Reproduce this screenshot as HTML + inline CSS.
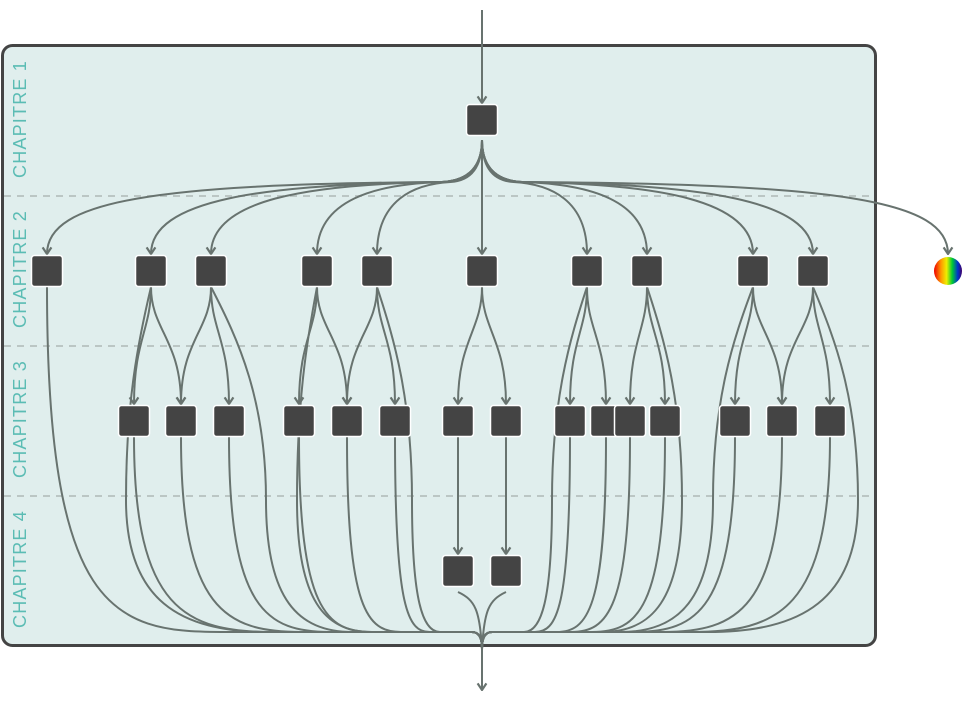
<!DOCTYPE html>
<html><head><meta charset="utf-8"><style>
html,body{margin:0;padding:0;background:#fff;width:964px;height:703px;overflow:hidden}
svg{display:block}
text{font-family:"Liberation Sans",sans-serif;font-size:18px;fill:#5bbcb4;letter-spacing:1.2px}
</style></head><body>
<svg id="s" width="964" height="703" viewBox="0 0 964 703" xmlns="http://www.w3.org/2000/svg">
<defs>
<marker id="a" viewBox="0 0 10 10" refX="9" refY="5" markerWidth="11" markerHeight="11" markerUnits="userSpaceOnUse" orient="auto">
<path d="M3 1 L9 5 L3 9" fill="none" stroke="#68736f" stroke-width="2"/>
</marker>
<linearGradient id="rb" x1="0" x2="1"><stop offset="0" stop-color="#e00"/><stop offset=".25" stop-color="#f90"/><stop offset=".45" stop-color="#ee0"/><stop offset=".65" stop-color="#0c3"/><stop offset=".85" stop-color="#03c"/><stop offset="1" stop-color="#406"/></linearGradient>
</defs>
<rect x="2.5" y="45.5" width="873" height="600" rx="10" fill="#e0eeed" stroke="#444" stroke-width="3"/>
<g stroke="#bbc6c4" stroke-width="2" stroke-dasharray="7 6">
<line x1="4" y1="196" x2="874" y2="196"/><line x1="4" y1="346" x2="874" y2="346"/><line x1="4" y1="496" x2="874" y2="496"/>
</g>
<text transform="translate(26,178) rotate(-90)">CHAPITRE 1</text>
<text transform="translate(26,328) rotate(-90)">CHAPITRE 2</text>
<text transform="translate(26,478) rotate(-90)">CHAPITRE 3</text>
<text transform="translate(26,628) rotate(-90)">CHAPITRE 4</text>
<g id="e" fill="none" stroke="#68736f" stroke-width="2"></g>
<g id="n"></g>
<circle cx="948" cy="271" r="14" fill="url(#rb)"/>
</svg>
<script>
var e=document.getElementById('e'),n=document.getElementById('n'),NS="http://www.w3.org/2000/svg";
function p(d,arr){var q=document.createElementNS(NS,'path');q.setAttribute('d',d);if(arr)q.setAttribute('marker-end','url(#a)');e.appendChild(q);}
function node(x,y){var r=document.createElementNS(NS,'rect');r.setAttribute('x',x-15.5);r.setAttribute('y',y-15.5);r.setAttribute('width',31);r.setAttribute('height',31);r.setAttribute('rx',3);r.setAttribute('fill','#444');r.setAttribute('stroke','#fff');r.setAttribute('stroke-width',1.5);n.appendChild(r);}
p("M482 10 L482 103",1);
var c2=[47,151,211,317,377,482,587,647,753,813,948];
c2.forEach(function(x){if(x==482){p("M482 140 L482 254",1);return;}
var s=x<482?-1:1,dx=Math.abs(x-482);
var mx=482+s*Math.min(40,dx*0.3);
p("M482 140 Q482 180 "+mx+" 182 C"+(x-s*Math.min(110,dx*0.35))+" 184 "+x+" 200 "+x+" 254",1);});
var pairs=[[151,134],[151,181],[211,181],[211,229],[317,299],[317,347],[377,347],[377,395],[482,458],[482,506],[587,570],[587,606],[647,630],[647,665],[753,735],[753,782],[813,782],[813,830]];
pairs.forEach(function(q){p("M"+q[0]+" 287 C"+q[0]+" 330 "+q[1]+" 340 "+q[1]+" 404",1);});
function merge(x,y0){var dx=482-x,s=dx>0?1:-1;
var m=x+dx*0.4;
p("M"+x+" "+y0+" C"+x+" 610 "+(x+dx*0.15)+" 632 "+m+" 632 L"+(482-s*10)+" 632 Q482 632 482 648");}
var c3=[134,181,229,299,347,395,570,606,630,665,735,782,830];
c3.forEach(function(x){merge(x,437);});
merge(47,287);
var longs=[[151,-25],[211,55],[317,-20],[377,35],[587,-35],[647,35],[753,-40],[813,45]];
longs.forEach(function(l){var x=l[0],o=l[1],x2=x+o,dx=482-x2,s=dx>0?1:-1;
p("M"+x+" 287 C"+(x+o*0.5)+" 340 "+x2+" 400 "+x2+" 500 C"+x2+" 600 "+(x2+dx*0.15)+" 632 "+(x2+dx*0.4)+" 632 L"+(482-s*10)+" 632 Q482 632 482 648");});
p("M458 437 L458 554",1);p("M506 437 L506 554",1);
p("M458 592 C475 600 480 610 482 650");p("M506 592 C489 600 484 610 482 650");
p("M482 645 L482 690",1);
node(482,120);c2.forEach(function(x){if(x!=948)node(x,271);});
[134,181,229,299,347,395,458,506,570,606,630,665,735,782,830].forEach(function(x){node(x,421);});
node(458,571);node(506,571);
</script>
</body></html>
